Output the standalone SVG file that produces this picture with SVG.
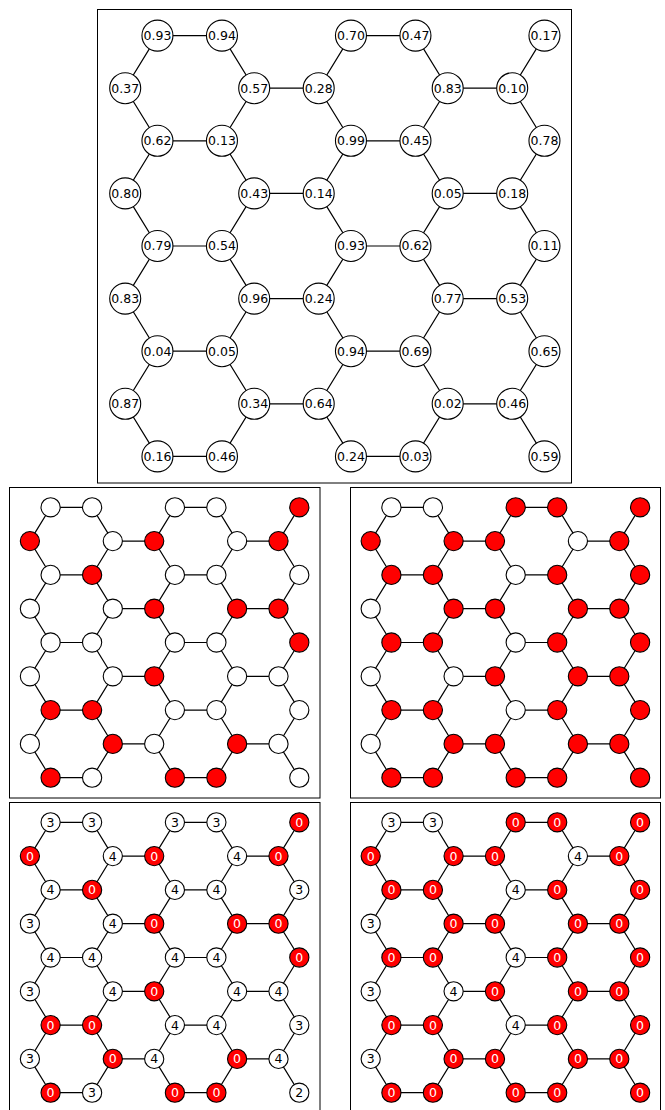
<svg xmlns="http://www.w3.org/2000/svg" width="665" height="1110" viewBox="0 0 665 1110">
<style>
.frame{fill:none;stroke:#000;stroke-width:1}
.edges{fill:none;stroke:#000;stroke-width:1.2}
circle{fill:#fff;stroke:#000;stroke-width:1.1}
.r circle{fill:#f00}
text{font-family:"DejaVu Sans","Liberation Sans",sans-serif;font-size:12.5px;text-anchor:middle;fill:#000}
.r text{fill:#fff}
</style>
<defs>
<path id="sp" d="M20.72,0 L0,33.8 L20.72,67.6 L0,101.4 L20.72,135.2 L0,169 L20.72,202.8 L0,236.6 L20.72,270.4
M62.16,0 L82.88,33.8 L62.16,67.6 L82.88,101.4 L62.16,135.2 L82.88,169 L62.16,202.8 L82.88,236.6 L62.16,270.4
M145.04,0 L124.32,33.8 L145.04,67.6 L124.32,101.4 L145.04,135.2 L124.32,169 L145.04,202.8 L124.32,236.6 L145.04,270.4
M186.48,0 L207.2,33.8 L186.48,67.6 L207.2,101.4 L186.48,135.2 L207.2,169 L186.48,202.8 L207.2,236.6 L186.48,270.4
M269.36,0 L248.64,33.8 L269.36,67.6 L248.64,101.4 L269.36,135.2 L248.64,169 L269.36,202.8 L248.64,236.6 L269.36,270.4
M20.72,0 H62.16 M145.04,0 H186.48 M20.72,67.6 H62.16 M145.04,67.6 H186.48 M20.72,135.2 H62.16 M145.04,135.2 H186.48 M20.72,202.8 H62.16 M145.04,202.8 H186.48 M20.72,270.4 H62.16 M145.04,270.4 H186.48
M82.88,33.8 H124.32 M207.2,33.8 H248.64 M82.88,101.4 H124.32 M207.2,101.4 H248.64 M82.88,169 H124.32 M207.2,169 H248.64 M82.88,236.6 H124.32 M207.2,236.6 H248.64"/>
</defs>
<rect width="665" height="1110" fill="#fff"/>

<!-- Top panel -->
<rect class="frame" x="97.5" y="9.5" width="474" height="473.5"/>
<g id="top" transform="translate(125.2,35.6)">
<g id="top-connectors" class="edges">
<path d="M32.25,0 L0,52.6 L32.25,105.2 L0,157.8 L32.25,210.4 L0,263 L32.25,315.6 L0,368.2 L32.25,420.8
M96.75,0 L129,52.6 L96.75,105.2 L129,157.8 L96.75,210.4 L129,263 L96.75,315.6 L129,368.2 L96.75,420.8
M225.75,0 L193.5,52.6 L225.75,105.2 L193.5,157.8 L225.75,210.4 L193.5,263 L225.75,315.6 L193.5,368.2 L225.75,420.8
M290.25,0 L322.5,52.6 L290.25,105.2 L322.5,157.8 L290.25,210.4 L322.5,263 L290.25,315.6 L322.5,368.2 L290.25,420.8
M419.25,0 L387,52.6 L419.25,105.2 L387,157.8 L419.25,210.4 L387,263 L419.25,315.6 L387,368.2 L419.25,420.8
M32.25,0 H96.75 M225.75,0 H290.25 M32.25,105.2 H96.75 M225.75,105.2 H290.25 M32.25,210.4 H96.75 M225.75,210.4 H290.25 M32.25,315.6 H96.75 M225.75,315.6 H290.25 M32.25,420.8 H96.75 M225.75,420.8 H290.25
M129,52.6 H193.5 M322.5,52.6 H387 M129,157.8 H193.5 M322.5,157.8 H387 M129,263 H193.5 M322.5,263 H387 M129,368.2 H193.5 M322.5,368.2 H387"/>
</g>
<g id="t0-0"><circle cx="32.25" cy="0" r="15.5"/><text x="32.25" y="4.5">0.93</text></g>
<g id="t0-1"><circle cx="96.75" cy="0" r="15.5"/><text x="96.75" y="4.5">0.94</text></g>
<g id="t0-2"><circle cx="225.75" cy="0" r="15.5"/><text x="225.75" y="4.5">0.70</text></g>
<g id="t0-3"><circle cx="290.25" cy="0" r="15.5"/><text x="290.25" y="4.5">0.47</text></g>
<g id="t0-4"><circle cx="419.25" cy="0" r="15.5"/><text x="419.25" y="4.5">0.17</text></g>
<g id="t1-0"><circle cx="0" cy="52.6" r="15.5"/><text x="0" y="57.1">0.37</text></g>
<g id="t1-1"><circle cx="129" cy="52.6" r="15.5"/><text x="129" y="57.1">0.57</text></g>
<g id="t1-2"><circle cx="193.5" cy="52.6" r="15.5"/><text x="193.5" y="57.1">0.28</text></g>
<g id="t1-3"><circle cx="322.5" cy="52.6" r="15.5"/><text x="322.5" y="57.1">0.83</text></g>
<g id="t1-4"><circle cx="387" cy="52.6" r="15.5"/><text x="387" y="57.1">0.10</text></g>
<g id="t2-0"><circle cx="32.25" cy="105.2" r="15.5"/><text x="32.25" y="109.7">0.62</text></g>
<g id="t2-1"><circle cx="96.75" cy="105.2" r="15.5"/><text x="96.75" y="109.7">0.13</text></g>
<g id="t2-2"><circle cx="225.75" cy="105.2" r="15.5"/><text x="225.75" y="109.7">0.99</text></g>
<g id="t2-3"><circle cx="290.25" cy="105.2" r="15.5"/><text x="290.25" y="109.7">0.45</text></g>
<g id="t2-4"><circle cx="419.25" cy="105.2" r="15.5"/><text x="419.25" y="109.7">0.78</text></g>
<g id="t3-0"><circle cx="0" cy="157.8" r="15.5"/><text x="0" y="162.3">0.80</text></g>
<g id="t3-1"><circle cx="129" cy="157.8" r="15.5"/><text x="129" y="162.3">0.43</text></g>
<g id="t3-2"><circle cx="193.5" cy="157.8" r="15.5"/><text x="193.5" y="162.3">0.14</text></g>
<g id="t3-3"><circle cx="322.5" cy="157.8" r="15.5"/><text x="322.5" y="162.3">0.05</text></g>
<g id="t3-4"><circle cx="387" cy="157.8" r="15.5"/><text x="387" y="162.3">0.18</text></g>
<g id="t4-0"><circle cx="32.25" cy="210.4" r="15.5"/><text x="32.25" y="214.9">0.79</text></g>
<g id="t4-1"><circle cx="96.75" cy="210.4" r="15.5"/><text x="96.75" y="214.9">0.54</text></g>
<g id="t4-2"><circle cx="225.75" cy="210.4" r="15.5"/><text x="225.75" y="214.9">0.93</text></g>
<g id="t4-3"><circle cx="290.25" cy="210.4" r="15.5"/><text x="290.25" y="214.9">0.62</text></g>
<g id="t4-4"><circle cx="419.25" cy="210.4" r="15.5"/><text x="419.25" y="214.9">0.11</text></g>
<g id="t5-0"><circle cx="0" cy="263" r="15.5"/><text x="0" y="267.5">0.83</text></g>
<g id="t5-1"><circle cx="129" cy="263" r="15.5"/><text x="129" y="267.5">0.96</text></g>
<g id="t5-2"><circle cx="193.5" cy="263" r="15.5"/><text x="193.5" y="267.5">0.24</text></g>
<g id="t5-3"><circle cx="322.5" cy="263" r="15.5"/><text x="322.5" y="267.5">0.77</text></g>
<g id="t5-4"><circle cx="387" cy="263" r="15.5"/><text x="387" y="267.5">0.53</text></g>
<g id="t6-0"><circle cx="32.25" cy="315.6" r="15.5"/><text x="32.25" y="320.1">0.04</text></g>
<g id="t6-1"><circle cx="96.75" cy="315.6" r="15.5"/><text x="96.75" y="320.1">0.05</text></g>
<g id="t6-2"><circle cx="225.75" cy="315.6" r="15.5"/><text x="225.75" y="320.1">0.94</text></g>
<g id="t6-3"><circle cx="290.25" cy="315.6" r="15.5"/><text x="290.25" y="320.1">0.69</text></g>
<g id="t6-4"><circle cx="419.25" cy="315.6" r="15.5"/><text x="419.25" y="320.1">0.65</text></g>
<g id="t7-0"><circle cx="0" cy="368.2" r="15.5"/><text x="0" y="372.7">0.87</text></g>
<g id="t7-1"><circle cx="129" cy="368.2" r="15.5"/><text x="129" y="372.7">0.34</text></g>
<g id="t7-2"><circle cx="193.5" cy="368.2" r="15.5"/><text x="193.5" y="372.7">0.64</text></g>
<g id="t7-3"><circle cx="322.5" cy="368.2" r="15.5"/><text x="322.5" y="372.7">0.02</text></g>
<g id="t7-4"><circle cx="387" cy="368.2" r="15.5"/><text x="387" y="372.7">0.46</text></g>
<g id="t8-0"><circle cx="32.25" cy="420.8" r="15.5"/><text x="32.25" y="425.3">0.16</text></g>
<g id="t8-1"><circle cx="96.75" cy="420.8" r="15.5"/><text x="96.75" y="425.3">0.46</text></g>
<g id="t8-2"><circle cx="225.75" cy="420.8" r="15.5"/><text x="225.75" y="425.3">0.24</text></g>
<g id="t8-3"><circle cx="290.25" cy="420.8" r="15.5"/><text x="290.25" y="425.3">0.03</text></g>
<g id="t8-4"><circle cx="419.25" cy="420.8" r="15.5"/><text x="419.25" y="425.3">0.59</text></g>
</g>

<!-- Panel A -->
<rect class="frame" x="9.5" y="487.5" width="310.5" height="310.5"/>
<g id="panelA" transform="translate(29.9,507.3)">
<g id="a-connectors" class="edges"><use href="#sp"/></g>
<g id="a0-0"><circle cx="20.7" cy="0" r="9.6"/></g>
<g id="a0-1"><circle cx="62.2" cy="0" r="9.6"/></g>
<g id="a0-2"><circle cx="145" cy="0" r="9.6"/></g>
<g id="a0-3"><circle cx="186.5" cy="0" r="9.6"/></g>
<g id="a0-4" class="r"><circle cx="269.4" cy="0" r="9.6"/></g>
<g id="a1-0" class="r"><circle cx="0" cy="33.8" r="9.6"/></g>
<g id="a1-1"><circle cx="82.9" cy="33.8" r="9.6"/></g>
<g id="a1-2" class="r"><circle cx="124.3" cy="33.8" r="9.6"/></g>
<g id="a1-3"><circle cx="207.2" cy="33.8" r="9.6"/></g>
<g id="a1-4" class="r"><circle cx="248.6" cy="33.8" r="9.6"/></g>
<g id="a2-0"><circle cx="20.7" cy="67.6" r="9.6"/></g>
<g id="a2-1" class="r"><circle cx="62.2" cy="67.6" r="9.6"/></g>
<g id="a2-2"><circle cx="145" cy="67.6" r="9.6"/></g>
<g id="a2-3"><circle cx="186.5" cy="67.6" r="9.6"/></g>
<g id="a2-4"><circle cx="269.4" cy="67.6" r="9.6"/></g>
<g id="a3-0"><circle cx="0" cy="101.4" r="9.6"/></g>
<g id="a3-1"><circle cx="82.9" cy="101.4" r="9.6"/></g>
<g id="a3-2" class="r"><circle cx="124.3" cy="101.4" r="9.6"/></g>
<g id="a3-3" class="r"><circle cx="207.2" cy="101.4" r="9.6"/></g>
<g id="a3-4" class="r"><circle cx="248.6" cy="101.4" r="9.6"/></g>
<g id="a4-0"><circle cx="20.7" cy="135.2" r="9.6"/></g>
<g id="a4-1"><circle cx="62.2" cy="135.2" r="9.6"/></g>
<g id="a4-2"><circle cx="145" cy="135.2" r="9.6"/></g>
<g id="a4-3"><circle cx="186.5" cy="135.2" r="9.6"/></g>
<g id="a4-4" class="r"><circle cx="269.4" cy="135.2" r="9.6"/></g>
<g id="a5-0"><circle cx="0" cy="169" r="9.6"/></g>
<g id="a5-1"><circle cx="82.9" cy="169" r="9.6"/></g>
<g id="a5-2" class="r"><circle cx="124.3" cy="169" r="9.6"/></g>
<g id="a5-3"><circle cx="207.2" cy="169" r="9.6"/></g>
<g id="a5-4"><circle cx="248.6" cy="169" r="9.6"/></g>
<g id="a6-0" class="r"><circle cx="20.7" cy="202.8" r="9.6"/></g>
<g id="a6-1" class="r"><circle cx="62.2" cy="202.8" r="9.6"/></g>
<g id="a6-2"><circle cx="145" cy="202.8" r="9.6"/></g>
<g id="a6-3"><circle cx="186.5" cy="202.8" r="9.6"/></g>
<g id="a6-4"><circle cx="269.4" cy="202.8" r="9.6"/></g>
<g id="a7-0"><circle cx="0" cy="236.6" r="9.6"/></g>
<g id="a7-1" class="r"><circle cx="82.9" cy="236.6" r="9.6"/></g>
<g id="a7-2"><circle cx="124.3" cy="236.6" r="9.6"/></g>
<g id="a7-3" class="r"><circle cx="207.2" cy="236.6" r="9.6"/></g>
<g id="a7-4"><circle cx="248.6" cy="236.6" r="9.6"/></g>
<g id="a8-0" class="r"><circle cx="20.7" cy="270.4" r="9.6"/></g>
<g id="a8-1"><circle cx="62.2" cy="270.4" r="9.6"/></g>
<g id="a8-2" class="r"><circle cx="145" cy="270.4" r="9.6"/></g>
<g id="a8-3" class="r"><circle cx="186.5" cy="270.4" r="9.6"/></g>
<g id="a8-4"><circle cx="269.4" cy="270.4" r="9.6"/></g>
</g>

<!-- Panel B -->
<rect class="frame" x="350.5" y="487.5" width="310" height="310.5"/>
<g id="panelB" transform="translate(370.7,507.3)">
<g id="b-connectors" class="edges"><use href="#sp"/></g>
<g id="b0-0"><circle cx="20.7" cy="0" r="9.6"/></g>
<g id="b0-1"><circle cx="62.2" cy="0" r="9.6"/></g>
<g id="b0-2" class="r"><circle cx="145" cy="0" r="9.6"/></g>
<g id="b0-3" class="r"><circle cx="186.5" cy="0" r="9.6"/></g>
<g id="b0-4" class="r"><circle cx="269.4" cy="0" r="9.6"/></g>
<g id="b1-0" class="r"><circle cx="0" cy="33.8" r="9.6"/></g>
<g id="b1-1" class="r"><circle cx="82.9" cy="33.8" r="9.6"/></g>
<g id="b1-2" class="r"><circle cx="124.3" cy="33.8" r="9.6"/></g>
<g id="b1-3"><circle cx="207.2" cy="33.8" r="9.6"/></g>
<g id="b1-4" class="r"><circle cx="248.6" cy="33.8" r="9.6"/></g>
<g id="b2-0" class="r"><circle cx="20.7" cy="67.6" r="9.6"/></g>
<g id="b2-1" class="r"><circle cx="62.2" cy="67.6" r="9.6"/></g>
<g id="b2-2"><circle cx="145" cy="67.6" r="9.6"/></g>
<g id="b2-3" class="r"><circle cx="186.5" cy="67.6" r="9.6"/></g>
<g id="b2-4" class="r"><circle cx="269.4" cy="67.6" r="9.6"/></g>
<g id="b3-0"><circle cx="0" cy="101.4" r="9.6"/></g>
<g id="b3-1" class="r"><circle cx="82.9" cy="101.4" r="9.6"/></g>
<g id="b3-2" class="r"><circle cx="124.3" cy="101.4" r="9.6"/></g>
<g id="b3-3" class="r"><circle cx="207.2" cy="101.4" r="9.6"/></g>
<g id="b3-4" class="r"><circle cx="248.6" cy="101.4" r="9.6"/></g>
<g id="b4-0" class="r"><circle cx="20.7" cy="135.2" r="9.6"/></g>
<g id="b4-1" class="r"><circle cx="62.2" cy="135.2" r="9.6"/></g>
<g id="b4-2"><circle cx="145" cy="135.2" r="9.6"/></g>
<g id="b4-3" class="r"><circle cx="186.5" cy="135.2" r="9.6"/></g>
<g id="b4-4" class="r"><circle cx="269.4" cy="135.2" r="9.6"/></g>
<g id="b5-0"><circle cx="0" cy="169" r="9.6"/></g>
<g id="b5-1"><circle cx="82.9" cy="169" r="9.6"/></g>
<g id="b5-2" class="r"><circle cx="124.3" cy="169" r="9.6"/></g>
<g id="b5-3" class="r"><circle cx="207.2" cy="169" r="9.6"/></g>
<g id="b5-4" class="r"><circle cx="248.6" cy="169" r="9.6"/></g>
<g id="b6-0" class="r"><circle cx="20.7" cy="202.8" r="9.6"/></g>
<g id="b6-1" class="r"><circle cx="62.2" cy="202.8" r="9.6"/></g>
<g id="b6-2"><circle cx="145" cy="202.8" r="9.6"/></g>
<g id="b6-3" class="r"><circle cx="186.5" cy="202.8" r="9.6"/></g>
<g id="b6-4" class="r"><circle cx="269.4" cy="202.8" r="9.6"/></g>
<g id="b7-0"><circle cx="0" cy="236.6" r="9.6"/></g>
<g id="b7-1" class="r"><circle cx="82.9" cy="236.6" r="9.6"/></g>
<g id="b7-2" class="r"><circle cx="124.3" cy="236.6" r="9.6"/></g>
<g id="b7-3" class="r"><circle cx="207.2" cy="236.6" r="9.6"/></g>
<g id="b7-4" class="r"><circle cx="248.6" cy="236.6" r="9.6"/></g>
<g id="b8-0" class="r"><circle cx="20.7" cy="270.4" r="9.6"/></g>
<g id="b8-1" class="r"><circle cx="62.2" cy="270.4" r="9.6"/></g>
<g id="b8-2" class="r"><circle cx="145" cy="270.4" r="9.6"/></g>
<g id="b8-3" class="r"><circle cx="186.5" cy="270.4" r="9.6"/></g>
<g id="b8-4" class="r"><circle cx="269.4" cy="270.4" r="9.6"/></g>
</g>

<!-- Panel C -->
<rect class="frame" x="9.5" y="802.5" width="310.5" height="310.5"/>
<g id="panelC" transform="translate(29.9,822.3)">
<g id="c-connectors" class="edges"><use href="#sp"/></g>
<g id="c0-0"><circle cx="20.7" cy="0" r="9.6"/><text x="20.7" y="4.5">3</text></g>
<g id="c0-1"><circle cx="62.2" cy="0" r="9.6"/><text x="62.2" y="4.5">3</text></g>
<g id="c0-2"><circle cx="145" cy="0" r="9.6"/><text x="145" y="4.5">3</text></g>
<g id="c0-3"><circle cx="186.5" cy="0" r="9.6"/><text x="186.5" y="4.5">3</text></g>
<g id="c0-4" class="r"><circle cx="269.4" cy="0" r="9.6"/><text x="269.4" y="4.5">0</text></g>
<g id="c1-0" class="r"><circle cx="0" cy="33.8" r="9.6"/><text x="0" y="38.3">0</text></g>
<g id="c1-1"><circle cx="82.9" cy="33.8" r="9.6"/><text x="82.9" y="38.3">4</text></g>
<g id="c1-2" class="r"><circle cx="124.3" cy="33.8" r="9.6"/><text x="124.3" y="38.3">0</text></g>
<g id="c1-3"><circle cx="207.2" cy="33.8" r="9.6"/><text x="207.2" y="38.3">4</text></g>
<g id="c1-4" class="r"><circle cx="248.6" cy="33.8" r="9.6"/><text x="248.6" y="38.3">0</text></g>
<g id="c2-0"><circle cx="20.7" cy="67.6" r="9.6"/><text x="20.7" y="72.1">4</text></g>
<g id="c2-1" class="r"><circle cx="62.2" cy="67.6" r="9.6"/><text x="62.2" y="72.1">0</text></g>
<g id="c2-2"><circle cx="145" cy="67.6" r="9.6"/><text x="145" y="72.1">4</text></g>
<g id="c2-3"><circle cx="186.5" cy="67.6" r="9.6"/><text x="186.5" y="72.1">4</text></g>
<g id="c2-4"><circle cx="269.4" cy="67.6" r="9.6"/><text x="269.4" y="72.1">3</text></g>
<g id="c3-0"><circle cx="0" cy="101.4" r="9.6"/><text x="0" y="105.9">3</text></g>
<g id="c3-1"><circle cx="82.9" cy="101.4" r="9.6"/><text x="82.9" y="105.9">4</text></g>
<g id="c3-2" class="r"><circle cx="124.3" cy="101.4" r="9.6"/><text x="124.3" y="105.9">0</text></g>
<g id="c3-3" class="r"><circle cx="207.2" cy="101.4" r="9.6"/><text x="207.2" y="105.9">0</text></g>
<g id="c3-4" class="r"><circle cx="248.6" cy="101.4" r="9.6"/><text x="248.6" y="105.9">0</text></g>
<g id="c4-0"><circle cx="20.7" cy="135.2" r="9.6"/><text x="20.7" y="139.7">4</text></g>
<g id="c4-1"><circle cx="62.2" cy="135.2" r="9.6"/><text x="62.2" y="139.7">4</text></g>
<g id="c4-2"><circle cx="145" cy="135.2" r="9.6"/><text x="145" y="139.7">4</text></g>
<g id="c4-3"><circle cx="186.5" cy="135.2" r="9.6"/><text x="186.5" y="139.7">4</text></g>
<g id="c4-4" class="r"><circle cx="269.4" cy="135.2" r="9.6"/><text x="269.4" y="139.7">0</text></g>
<g id="c5-0"><circle cx="0" cy="169" r="9.6"/><text x="0" y="173.5">3</text></g>
<g id="c5-1"><circle cx="82.9" cy="169" r="9.6"/><text x="82.9" y="173.5">4</text></g>
<g id="c5-2" class="r"><circle cx="124.3" cy="169" r="9.6"/><text x="124.3" y="173.5">0</text></g>
<g id="c5-3"><circle cx="207.2" cy="169" r="9.6"/><text x="207.2" y="173.5">4</text></g>
<g id="c5-4"><circle cx="248.6" cy="169" r="9.6"/><text x="248.6" y="173.5">4</text></g>
<g id="c6-0" class="r"><circle cx="20.7" cy="202.8" r="9.6"/><text x="20.7" y="207.3">0</text></g>
<g id="c6-1" class="r"><circle cx="62.2" cy="202.8" r="9.6"/><text x="62.2" y="207.3">0</text></g>
<g id="c6-2"><circle cx="145" cy="202.8" r="9.6"/><text x="145" y="207.3">4</text></g>
<g id="c6-3"><circle cx="186.5" cy="202.8" r="9.6"/><text x="186.5" y="207.3">4</text></g>
<g id="c6-4"><circle cx="269.4" cy="202.8" r="9.6"/><text x="269.4" y="207.3">3</text></g>
<g id="c7-0"><circle cx="0" cy="236.6" r="9.6"/><text x="0" y="241.1">3</text></g>
<g id="c7-1" class="r"><circle cx="82.9" cy="236.6" r="9.6"/><text x="82.9" y="241.1">0</text></g>
<g id="c7-2"><circle cx="124.3" cy="236.6" r="9.6"/><text x="124.3" y="241.1">4</text></g>
<g id="c7-3" class="r"><circle cx="207.2" cy="236.6" r="9.6"/><text x="207.2" y="241.1">0</text></g>
<g id="c7-4"><circle cx="248.6" cy="236.6" r="9.6"/><text x="248.6" y="241.1">4</text></g>
<g id="c8-0" class="r"><circle cx="20.7" cy="270.4" r="9.6"/><text x="20.7" y="274.9">0</text></g>
<g id="c8-1"><circle cx="62.2" cy="270.4" r="9.6"/><text x="62.2" y="274.9">3</text></g>
<g id="c8-2" class="r"><circle cx="145" cy="270.4" r="9.6"/><text x="145" y="274.9">0</text></g>
<g id="c8-3" class="r"><circle cx="186.5" cy="270.4" r="9.6"/><text x="186.5" y="274.9">0</text></g>
<g id="c8-4"><circle cx="269.4" cy="270.4" r="9.6"/><text x="269.4" y="274.9">2</text></g>
</g>

<!-- Panel D -->
<rect class="frame" x="350.5" y="802.5" width="310" height="310.5"/>
<g id="panelD" transform="translate(370.7,822.3)">
<g id="d-connectors" class="edges"><use href="#sp"/></g>
<g id="d0-0"><circle cx="20.7" cy="0" r="9.6"/><text x="20.7" y="4.5">3</text></g>
<g id="d0-1"><circle cx="62.2" cy="0" r="9.6"/><text x="62.2" y="4.5">3</text></g>
<g id="d0-2" class="r"><circle cx="145" cy="0" r="9.6"/><text x="145" y="4.5">0</text></g>
<g id="d0-3" class="r"><circle cx="186.5" cy="0" r="9.6"/><text x="186.5" y="4.5">0</text></g>
<g id="d0-4" class="r"><circle cx="269.4" cy="0" r="9.6"/><text x="269.4" y="4.5">0</text></g>
<g id="d1-0" class="r"><circle cx="0" cy="33.8" r="9.6"/><text x="0" y="38.3">0</text></g>
<g id="d1-1" class="r"><circle cx="82.9" cy="33.8" r="9.6"/><text x="82.9" y="38.3">0</text></g>
<g id="d1-2" class="r"><circle cx="124.3" cy="33.8" r="9.6"/><text x="124.3" y="38.3">0</text></g>
<g id="d1-3"><circle cx="207.2" cy="33.8" r="9.6"/><text x="207.2" y="38.3">4</text></g>
<g id="d1-4" class="r"><circle cx="248.6" cy="33.8" r="9.6"/><text x="248.6" y="38.3">0</text></g>
<g id="d2-0" class="r"><circle cx="20.7" cy="67.6" r="9.6"/><text x="20.7" y="72.1">0</text></g>
<g id="d2-1" class="r"><circle cx="62.2" cy="67.6" r="9.6"/><text x="62.2" y="72.1">0</text></g>
<g id="d2-2"><circle cx="145" cy="67.6" r="9.6"/><text x="145" y="72.1">4</text></g>
<g id="d2-3" class="r"><circle cx="186.5" cy="67.6" r="9.6"/><text x="186.5" y="72.1">0</text></g>
<g id="d2-4" class="r"><circle cx="269.4" cy="67.6" r="9.6"/><text x="269.4" y="72.1">0</text></g>
<g id="d3-0"><circle cx="0" cy="101.4" r="9.6"/><text x="0" y="105.9">3</text></g>
<g id="d3-1" class="r"><circle cx="82.9" cy="101.4" r="9.6"/><text x="82.9" y="105.9">0</text></g>
<g id="d3-2" class="r"><circle cx="124.3" cy="101.4" r="9.6"/><text x="124.3" y="105.9">0</text></g>
<g id="d3-3" class="r"><circle cx="207.2" cy="101.4" r="9.6"/><text x="207.2" y="105.9">0</text></g>
<g id="d3-4" class="r"><circle cx="248.6" cy="101.4" r="9.6"/><text x="248.6" y="105.9">0</text></g>
<g id="d4-0" class="r"><circle cx="20.7" cy="135.2" r="9.6"/><text x="20.7" y="139.7">0</text></g>
<g id="d4-1" class="r"><circle cx="62.2" cy="135.2" r="9.6"/><text x="62.2" y="139.7">0</text></g>
<g id="d4-2"><circle cx="145" cy="135.2" r="9.6"/><text x="145" y="139.7">4</text></g>
<g id="d4-3" class="r"><circle cx="186.5" cy="135.2" r="9.6"/><text x="186.5" y="139.7">0</text></g>
<g id="d4-4" class="r"><circle cx="269.4" cy="135.2" r="9.6"/><text x="269.4" y="139.7">0</text></g>
<g id="d5-0"><circle cx="0" cy="169" r="9.6"/><text x="0" y="173.5">3</text></g>
<g id="d5-1"><circle cx="82.9" cy="169" r="9.6"/><text x="82.9" y="173.5">4</text></g>
<g id="d5-2" class="r"><circle cx="124.3" cy="169" r="9.6"/><text x="124.3" y="173.5">0</text></g>
<g id="d5-3" class="r"><circle cx="207.2" cy="169" r="9.6"/><text x="207.2" y="173.5">0</text></g>
<g id="d5-4" class="r"><circle cx="248.6" cy="169" r="9.6"/><text x="248.6" y="173.5">0</text></g>
<g id="d6-0" class="r"><circle cx="20.7" cy="202.8" r="9.6"/><text x="20.7" y="207.3">0</text></g>
<g id="d6-1" class="r"><circle cx="62.2" cy="202.8" r="9.6"/><text x="62.2" y="207.3">0</text></g>
<g id="d6-2"><circle cx="145" cy="202.8" r="9.6"/><text x="145" y="207.3">4</text></g>
<g id="d6-3" class="r"><circle cx="186.5" cy="202.8" r="9.6"/><text x="186.5" y="207.3">0</text></g>
<g id="d6-4" class="r"><circle cx="269.4" cy="202.8" r="9.6"/><text x="269.4" y="207.3">0</text></g>
<g id="d7-0"><circle cx="0" cy="236.6" r="9.6"/><text x="0" y="241.1">3</text></g>
<g id="d7-1" class="r"><circle cx="82.9" cy="236.6" r="9.6"/><text x="82.9" y="241.1">0</text></g>
<g id="d7-2" class="r"><circle cx="124.3" cy="236.6" r="9.6"/><text x="124.3" y="241.1">0</text></g>
<g id="d7-3" class="r"><circle cx="207.2" cy="236.6" r="9.6"/><text x="207.2" y="241.1">0</text></g>
<g id="d7-4" class="r"><circle cx="248.6" cy="236.6" r="9.6"/><text x="248.6" y="241.1">0</text></g>
<g id="d8-0" class="r"><circle cx="20.7" cy="270.4" r="9.6"/><text x="20.7" y="274.9">0</text></g>
<g id="d8-1" class="r"><circle cx="62.2" cy="270.4" r="9.6"/><text x="62.2" y="274.9">0</text></g>
<g id="d8-2" class="r"><circle cx="145" cy="270.4" r="9.6"/><text x="145" y="274.9">0</text></g>
<g id="d8-3" class="r"><circle cx="186.5" cy="270.4" r="9.6"/><text x="186.5" y="274.9">0</text></g>
<g id="d8-4" class="r"><circle cx="269.4" cy="270.4" r="9.6"/><text x="269.4" y="274.9">0</text></g>
</g>
</svg>
